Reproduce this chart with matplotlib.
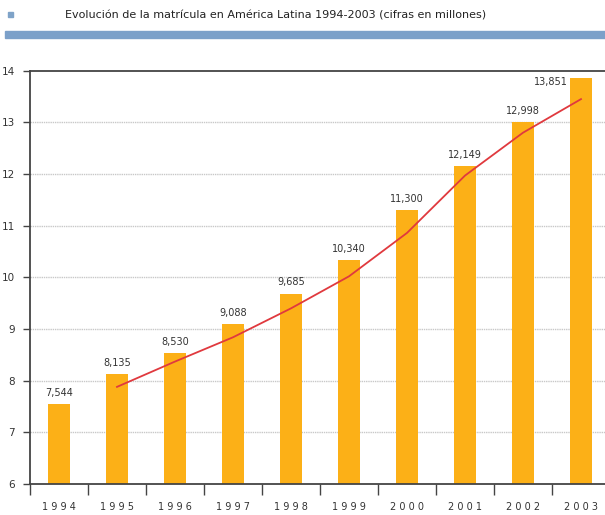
import matplotlib.pyplot as plt
import numpy as np
from matplotlib.patches import Rectangle
from matplotlib import font_manager

years = ['1994', '1995', '1996', '1997', '1998', '1999', '2000', '2001', '2002', '2003']
matricula = [7.544, 8.135, 8.530, 9.088, 9.685, 10.340, 11.300, 12.149, 12.998, 13.851]
etiquetas = ['7,544', '8,135', '8,530', '9,088', '9,685', '10,340', '11,300', '12,149', '12,998', '13,851']
# linea de tendencia (1995-2003)
tendencia_years = years[1:]
tendencia = [7.88, 8.37, 8.84, 9.40, 10.02, 10.86, 11.97, 12.80, 13.45]

nombres = sorted({f.name for f in font_manager.fontManager.ttflist})
FONT = [n for n in ['Liberation Sans Narrow', 'DejaVu Sans Condensed'] if n in nombres] + ['DejaVu Sans']
plt.rcParams['font.family'] = FONT

fig = plt.figure(figsize=(6.05, 5.15), dpi=100)
ax = fig.add_axes([30 / 605, 1 - 484 / 515, 580 / 605, (484 - 70.7) / 515])

x = np.arange(len(years))
ax.bar(x, matricula, width=0.38, color='#FCB017', zorder=2)
pos = {y: i for i, y in enumerate(years)}
ax.plot([pos[y] for y in tendencia_years], tendencia, color='#E0393E', lw=1.3, zorder=3)

for i, (v, t) in enumerate(zip(matricula, etiquetas)):
    if i == len(matricula) - 1:
        ax.text(i - 0.22, v - 0.07, t, ha='right', va='center', fontsize=7, color='#333333')
    else:
        ax.text(i, v + 0.12, t, ha='center', va='bottom', fontsize=7, color='#333333')

ax.set_xlim(-0.5, 9.5)
ax.set_ylim(6, 14)
ax.set_yticks(range(6, 15))
ax.set_yticklabels([str(v) for v in range(6, 15)], fontsize=7.5, color='#333333')
ax.tick_params(axis='y', length=5, width=1, color='#444444', pad=6)
for yv in range(7, 14):
    ax.axhline(yv, color='#c8c8c8', lw=1, ls=(0, (1, 0.6)), zorder=1)

ax.set_xticks(x)
ax.set_xticklabels([' '.join(y) for y in years], fontsize=7, color='#333333')
ax.tick_params(axis='x', which='major', length=0, pad=13)
ax.set_xticks(np.arange(-0.5, 10, 1), minor=True)
ax.tick_params(axis='x', which='minor', length=8, width=1, color='#444444')

ax.spines['right'].set_visible(False)
for s in ['left', 'bottom', 'top']:
    ax.spines[s].set_color('#444444')
    ax.spines[s].set_linewidth(1.3)

# cabecera
fig.patches.append(Rectangle((8 / 605, 1 - 17 / 515), 5 / 605, 5 / 515,
                             transform=fig.transFigure, color='#7FA3C8'))
fig.patches.append(Rectangle((5 / 605, 1 - 38 / 515), 1, 7 / 515,
                             transform=fig.transFigure, color='#7BA0C9'))
fig.text(65 / 605, 1 - 15 / 515,
         'Evolución de la matrícula en América Latina 1994-2003 (cifras en millones)',
         fontsize=8, color='#222222', va='center', ha='left')

print(FONT)
fig.savefig('out.png', dpi=100)
